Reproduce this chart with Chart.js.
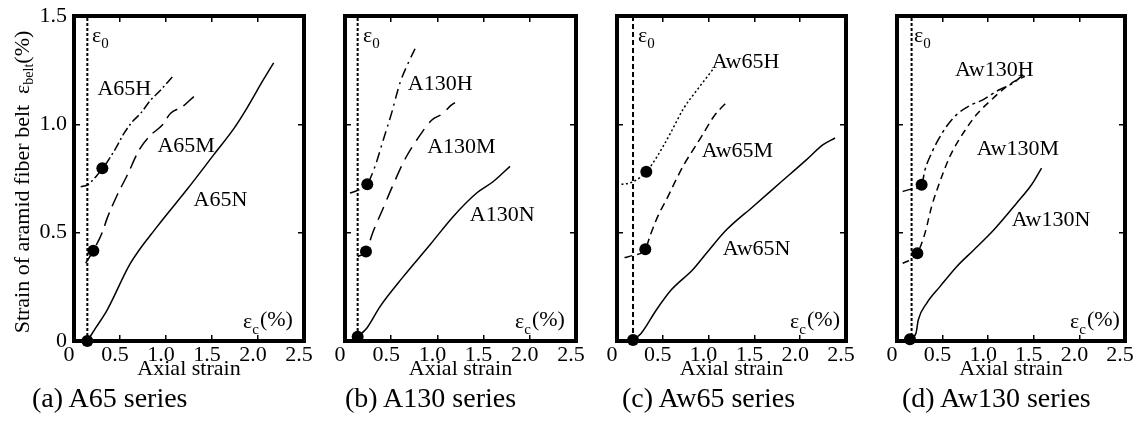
<!DOCTYPE html>
<html>
<head>
<meta charset="utf-8">
<script src="https://cdn.jsdelivr.net/npm/chart.js@4.4.0/dist/chart.umd.min.js"></script>
<style>
  body { margin: 0; background: #fff; }
  #page { position: relative; width: 1138px; height: 431px; overflow: hidden; font-family: "Liberation Serif", "Times New Roman", serif; color: #000; }
  canvas { position: absolute; top: 0; }
  .cap { position: absolute; top: 384px; font-size: 28px; line-height: 28px; white-space: nowrap; }
  #ytitle { position: absolute; left: -178px; top: 169px; width: 400px; height: 26px; line-height: 26px; font-size: 22px; text-align: center; white-space: nowrap; transform: rotate(-90deg); }
  #ytitle sub { font-size: 14px; line-height: 0; vertical-align: -4px; }
</style>
</head>
<body>
<div id="page">
  <canvas id="pa"></canvas>
  <canvas id="pb"></canvas>
  <canvas id="pc"></canvas>
  <canvas id="pd"></canvas>
  <div id="ytitle">Strain of aramid fiber belt&nbsp;&nbsp;ε<sub>belt</sub>(%)</div>
  <div class="cap" style="left:32px">(a) A65 series</div>
  <div class="cap" style="left:345px">(b) A130 series</div>
  <div class="cap" style="left:622px">(c) Aw65 series</div>
  <div class="cap" style="left:902px">(d) Aw130 series</div>
</div>
<script>
// tick labels
const xTickLabels = ['0', '0.5', '1.0', '1.5', '2.0', '2.5'];
const yTickLabels = ['0', '0.5', '1.0', '1.5'];

// epsilon_0 of each series (a, b, c, d)
const eps0 = [0.145, 0.137, 0.175, 0.16];

// (a) A65 series  [axial strain, belt strain]
const A65H = [[0.073,0.712],[0.145,0.72],[0.253,0.766],[0.308,0.797],[0.362,0.827],[0.453,0.889],[0.543,0.958],[0.634,1.012],[0.725,1.051],[0.833,1.112],[0.924,1.15],[1.087,1.228]];
const A65M = [[0.127,0.359],[0.21,0.417],[0.31,0.504],[0.36,0.566],[0.47,0.674],[0.58,0.766],[0.707,0.881],[0.815,0.943],[0.96,0.997],[1.05,1.051],[1.177,1.081],[1.30,1.127],[1.36,1.146]];
const A65N = [[0.145,0],[0.234,0.059],[0.36,0.143],[0.614,0.359],[0.904,0.528],[1.23,0.70],[1.52,0.86],[1.737,0.98],[1.88,1.075],[2.06,1.207],[2.17,1.284]];
const A65dots = [[0.145,0],[0.21,0.417],[0.308,0.797]];

// (b) A130 series
const A130H = [[0.054,0.683],[0.137,0.695],[0.241,0.724],[0.325,0.806],[0.415,0.929],[0.505,1.053],[0.595,1.191],[0.685,1.284],[0.758,1.349]];
const A130M = [[0.137,0.39],[0.227,0.413],[0.3,0.5],[0.4,0.6],[0.52,0.72],[0.65,0.84],[0.78,0.93],[0.94,1.02],[1.06,1.05],[1.14,1.085],[1.19,1.1]];
const A130N = [[0.137,0.02],[0.235,0.059],[0.379,0.159],[0.631,0.297],[0.92,0.444],[1.172,0.575],[1.425,0.683],[1.605,0.736],[1.786,0.806]];
const A130dots = [[0.137,0.02],[0.227,0.413],[0.241,0.724]];

// (c) Aw65 series
const Aw65H = [[0.0,0.72],[0.175,0.735],[0.32,0.781],[0.437,0.851],[0.582,0.958],[0.728,1.074],[0.873,1.158],[1.055,1.258]];
const Aw65M = [[0.082,0.385],[0.175,0.395],[0.309,0.423],[0.364,0.489],[0.45,0.58],[0.546,0.658],[0.64,0.74],[0.728,0.812],[0.82,0.875],[0.91,0.935],[1.055,1.035],[1.219,1.112]];
const Aw65N = [[0.175,0.005],[0.265,0.036],[0.429,0.143],[0.593,0.236],[0.829,0.33],[0.976,0.405],[1.195,0.513],[1.486,0.621],[1.778,0.729],[2.07,0.837],[2.25,0.906],[2.38,0.937]];
const Aw65dots = [[0.175,0.005],[0.309,0.423],[0.32,0.781]];

// (d) Aw130 series
const Aw130H = [[0.062,0.69],[0.16,0.701],[0.27,0.721],[0.307,0.79],[0.38,0.868],[0.453,0.929],[0.544,0.991],[0.654,1.045],[0.8,1.087],[0.946,1.114],[1.092,1.153],[1.274,1.191],[1.384,1.229]];
const Aw130M = [[0.062,0.359],[0.16,0.378],[0.223,0.405],[0.307,0.498],[0.38,0.621],[0.471,0.736],[0.58,0.852],[0.727,0.96],[0.873,1.045],[1.037,1.114],[1.183,1.168],[1.292,1.199],[1.402,1.222]];
const Aw130N = [[0.142,0.008],[0.208,0.036],[0.233,0.097],[0.325,0.174],[0.471,0.251],[0.654,0.343],[0.836,0.418],[1.055,0.51],[1.311,0.636],[1.475,0.721],[1.585,0.798]];
const Aw130dots = [[0.142,0.008],[0.223,0.405],[0.27,0.721]];

const FONT = '"Liberation Serif", "Times New Roman", serif';

const panels = [
  { id: 'pa', left: 74, width: 230, e0: eps0[0], e0dash: [3, 2], dots: A65dots, showY: true,
    series: [{ data: A65H, dash: [9, 3, 2, 3] }, { data: A65M, dash: [14, 7] }, { data: A65N, dash: [] }],
    notes: [['A65H', 0.255, 1.137], ['A65M', 0.907, 0.874], ['A65N', 1.30, 0.624], ['ε_0', 0.196, 1.38], ['ε_c(%)', 1.837, 0.06]] },
  { id: 'pb', left: 345, width: 231, e0: eps0[1], e0dash: [3, 2], dots: A130dots, showY: false,
    series: [{ data: A130H, dash: [10, 5, 2, 5] }, { data: A130M, dash: [14, 8] }, { data: A130N, dash: [] }],
    notes: [['A130H', 0.68, 1.16], ['A130M', 0.89, 0.869], ['A130N', 1.35, 0.555], ['ε_0', 0.195, 1.38], ['ε_c(%)', 1.84, 0.06]] },
  { id: 'pc', left: 617, width: 229, e0: eps0[2], e0dash: [5, 3], dots: Aw65dots, showY: false,
    series: [{ data: Aw65H, dash: [2, 2.5] }, { data: Aw65M, dash: [8, 5] }, { data: Aw65N, dash: [] }],
    notes: [['Aw65H', 1.034, 1.262], ['Aw65M', 0.926, 0.85], ['Aw65N', 1.155, 0.398], ['ε_0', 0.23, 1.38], ['ε_c(%)', 1.89, 0.06]] },
  { id: 'pd', left: 897, width: 228, e0: eps0[3], e0dash: [3, 2], dots: Aw130dots, showY: false,
    series: [{ data: Aw130H, dash: [10, 4, 3, 4] }, { data: Aw130M, dash: [7, 5] }, { data: Aw130N, dash: [] }],
    notes: [['Aw130H', 0.636, 1.225], ['Aw130M', 0.874, 0.86], ['Aw130N', 1.258, 0.532], ['ε_0', 0.186, 1.38], ['ε_c(%)', 1.897, 0.06]] }
];

function pts(arr) {
  return arr.map(p => ({ x: p[0], y: p[1] }));
}

// text with one subscript char after "_"
function drawNote(ctx, str, x, y) {
  const parts = str.split('_');
  ctx.font = '22px ' + FONT;
  ctx.fillText(parts[0], x, y);
  let cx = x + ctx.measureText(parts[0]).width;
  if (parts.length > 1) {
    const sub = parts[1].charAt(0);
    const rest = parts[1].slice(1);
    ctx.font = '15px ' + FONT;
    ctx.fillText(sub, cx, y + 6);
    cx += ctx.measureText(sub).width + 1;
    ctx.font = '22px ' + FONT;
    if (rest) ctx.fillText(rest, cx, y - 2);
  }
}

// tick marks pointing into the plot, no grid lines
function innerGrid() {
  return { drawOnChartArea: false, drawTicks: true, tickLength: -6, lineWidth: 1.5, color: '#000' };
}

function makePanel(p) {
  const canvas = document.getElementById(p.id);
  canvas.width = 74 + p.width + 30;
  canvas.height = 431;
  canvas.style.left = (p.left - 74) + 'px';

  const frame = {
    id: 'frame',
    beforeDatasetsDraw(chart) {
      const a = chart.chartArea;
      const ctx = chart.ctx;
      ctx.save();
      ctx.lineWidth = 4;
      ctx.strokeStyle = '#000';
      ctx.strokeRect(a.left, a.top, a.right - a.left, a.bottom - a.top);
      ctx.restore();
    },
    afterDatasetsDraw(chart) {
      const ctx = chart.ctx;
      const xs = chart.scales.x, ys = chart.scales.y;
      ctx.save();
      ctx.fillStyle = '#000';
      ctx.textAlign = 'left';
      ctx.textBaseline = 'alphabetic';
      p.notes.forEach(n => drawNote(ctx, n[0], xs.getPixelForValue(n[1]), ys.getPixelForValue(n[2])));
      ctx.restore();
    }
  };

  const datasets = [
    { data: pts(p.dots), showLine: false, pointRadius: 6, pointBackgroundColor: '#000', pointBorderWidth: 0, clip: false },
    ...p.series.map(s => ({ data: pts(s.data), borderColor: '#000', borderWidth: 1.5, borderDash: s.dash, pointRadius: 0, cubicInterpolationMode: 'monotone', fill: false })),
    { data: [{ x: p.e0, y: 0 }, { x: p.e0, y: 1.5 }], borderColor: '#000', borderWidth: 2, borderDash: p.e0dash, pointRadius: 0 }
  ];

  new Chart(canvas, {
    type: 'line',
    data: { datasets: datasets },
    options: {
      responsive: false,
      animation: false,
      layout: { padding: { left: 0, right: 26, top: 10, bottom: 0 } },
      plugins: { legend: { display: false }, tooltip: { enabled: false } },
      scales: {
        x: {
          type: 'linear', position: 'bottom', min: 0, max: 2.5,
          ticks: { stepSize: 0.5, padding: 7, labelOffset: -5, color: '#000', maxRotation: 0, autoSkip: false,
                   font: { family: FONT, size: 22 }, callback: (v, i) => xTickLabels[i] },
          grid: innerGrid(),
          border: { display: false },
          title: { display: true, text: 'Axial strain', color: '#000', font: { family: FONT, size: 22 }, padding: { top: 0, bottom: 49 } },
          afterFit: s => { s.height = 90; }
        },
        x2: {
          type: 'linear', position: 'top', min: 0, max: 2.5,
          ticks: { stepSize: 0.5, display: false },
          grid: innerGrid(),
          border: { display: false },
          afterFit: s => { s.height = 6; }
        },
        y: {
          type: 'linear', position: 'left', min: 0, max: 1.5,
          ticks: { stepSize: 0.5, display: p.showY, padding: 13, color: '#000',
                   font: { family: FONT, size: 22, lineHeight: 0.2 }, callback: (v, i) => yTickLabels[i] },
          grid: innerGrid(),
          border: { display: false },
          // keep the label padding from shrinking the scale
          afterFit: s => { s.width = 74; s.paddingTop = 0; s.paddingBottom = 0; }
        },
        y2: {
          type: 'linear', position: 'right', min: 0, max: 1.5,
          ticks: { stepSize: 0.5, display: false },
          grid: innerGrid(),
          border: { display: false },
          afterFit: s => { s.width = 4; }
        }
      }
    },
    plugins: [frame]
  });
}

panels.forEach(makePanel);
</script>
</body>
</html>
